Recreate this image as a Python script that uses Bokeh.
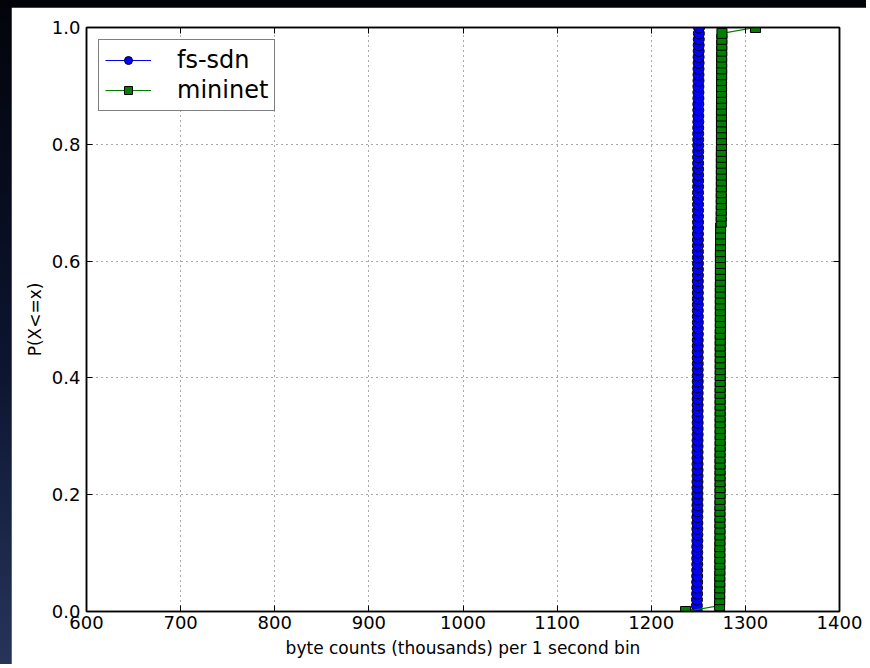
import numpy as np
from bokeh.plotting import figure
from bokeh.models import (LinearAxis, Legend, LegendItem, FixedTicker,
                          PrintfTickFormatter, Range1d, CustomJSTickFormatter)
from bokeh.embed import file_html
from bokeh.resources import INLINE

# ---- data (byte counts, thousands, per 1 second bin) ----
fs_sdn = [
    1248.4, 1248.5, 1248.6, 1248.7, 1248.7, 1248.8, 1248.8, 1248.8, 1248.9, 1248.9,
    1248.9, 1248.9, 1249.0, 1249.0, 1249.0, 1249.0, 1249.0, 1249.1, 1249.1, 1249.1,
    1249.1, 1249.1, 1249.1, 1249.2, 1249.2, 1249.2, 1249.2, 1249.2, 1249.2, 1249.2,
    1249.3, 1249.3, 1249.3, 1249.3, 1249.3, 1249.3, 1249.3, 1249.3, 1249.4, 1249.4,
    1249.4, 1249.4, 1249.4, 1249.4, 1249.4, 1249.4, 1249.4, 1249.5, 1249.5, 1249.5,
    1249.5, 1249.5, 1249.5, 1249.5, 1249.5, 1249.5, 1249.5, 1249.6, 1249.6, 1249.6,
    1249.6, 1249.6, 1249.6, 1249.6, 1249.6, 1249.7, 1249.7, 1249.7, 1249.7, 1249.7,
    1249.7, 1249.7, 1249.8, 1249.8, 1249.8, 1249.8, 1249.8, 1249.8, 1249.9, 1249.9,
    1249.9, 1249.9, 1249.9, 1250.0, 1250.0, 1250.0, 1250.0, 1250.1, 1250.1, 1250.1,
    1250.2, 1250.2, 1250.2, 1250.3, 1250.3, 1250.4, 1250.4, 1250.5, 1250.6, 1250.8,
]

mininet = [
    1236.5,
    1272.6, 1272.7, 1272.7, 1272.8, 1272.8, 1272.8, 1272.9, 1272.9, 1272.9,
    1272.9, 1272.9, 1273.0, 1273.0, 1273.0, 1273.0, 1273.0, 1273.0, 1273.0, 1273.1,
    1273.1, 1273.1, 1273.1, 1273.1, 1273.1, 1273.1, 1273.1, 1273.1, 1273.2, 1273.2,
    1273.2, 1273.2, 1273.2, 1273.2, 1273.2, 1273.2, 1273.2, 1273.2, 1273.2, 1273.3,
    1273.3, 1273.3, 1273.3, 1273.3, 1273.3, 1273.3, 1273.3, 1273.3, 1273.4, 1273.4,
    1273.4, 1273.4, 1273.4, 1273.4, 1273.4, 1273.4, 1273.5, 1273.5, 1273.5, 1273.5,
    1273.5, 1273.5, 1273.6, 1273.6, 1273.6, 1273.7,
    1274.3, 1274.3, 1274.4, 1274.4, 1274.4, 1274.4, 1274.5, 1274.5, 1274.5, 1274.5,
    1274.5, 1274.5, 1274.5, 1274.6, 1274.6, 1274.6, 1274.6, 1274.6, 1274.6, 1274.6,
    1274.7, 1274.7, 1274.7, 1274.7, 1274.7, 1274.8, 1274.8, 1274.8, 1274.8, 1274.9,
    1274.9, 1275.0, 1275.1,
    1310.8,
]

x_ticks = [600, 700, 800, 900, 1000, 1100, 1200, 1300, 1400]
y_ticks = [0.0, 0.2, 0.4, 0.6, 0.8, 1.0]
series_labels = ["fs-sdn", "mininet"]


def ecdf(vals):
    xs = np.sort(np.asarray(vals, dtype=float))
    ys = np.arange(len(xs)) / float(len(xs) - 1)
    return xs, ys


FONT = "DejaVu Sans"

p = figure(width=866, height=664,
           x_range=Range1d(600, 1400), y_range=Range1d(0, 1),
           output_backend="svg", toolbar_location=None,
           min_border_left=75, min_border_right=38,
           min_border_top=20, min_border_bottom=60)
p.styles = {"padding-top": "7px", "padding-left": "11px",
            "background": "linear-gradient(180deg, #03040a 0%, #0c1430 55%, #27345a 100%)"}
p.background_fill_color = "white"
p.border_fill_color = "white"
p.outline_line_color = "black"
p.outline_line_width = 1.5

x1, y1 = ecdf(fs_sdn)
x2, y2 = ecdf(mininet)

l1 = p.line(x1, y1, line_color="#0000ff", line_width=1.2)
s1 = p.scatter(x1, y1, marker="circle", size=11, fill_color="#0000ff",
               line_color="black", line_width=1)
l2 = p.line(x2, y2, line_color="#008000", line_width=1.2)
s2 = p.scatter(x2, y2, marker="square", size=10, fill_color="#008000",
               line_color="black", line_width=1)

# axes
for ax in (p.xaxis[0], p.yaxis[0]):
    ax.major_tick_in = 6
    ax.major_tick_out = 0
    ax.minor_tick_line_color = None
    ax.axis_line_width = 1.5
    ax.axis_line_color = "black"
    ax.major_tick_line_color = "black"
    ax.major_label_text_font = FONT
    ax.major_label_text_font_size = "18px"
    ax.major_label_text_color = "black"
    ax.axis_label_text_font = FONT
    ax.axis_label_text_font_size = "17px"
    ax.axis_label_text_font_style = "normal"
    ax.axis_label_text_color = "black"

p.xaxis[0].ticker = FixedTicker(ticks=x_ticks)
p.yaxis[0].ticker = FixedTicker(ticks=y_ticks)
p.yaxis[0].formatter = PrintfTickFormatter(format="%.1f")
p.xaxis[0].axis_label = "byte counts (thousands) per 1 second bin"
p.yaxis[0].axis_label = "P(X<=x)"
p.xaxis[0].major_label_standoff = 4
p.yaxis[0].major_label_standoff = 6
p.xaxis[0].axis_label_standoff = 6
p.yaxis[0].axis_label_standoff = 4

blank = CustomJSTickFormatter(code="return ''")
top = LinearAxis(ticker=FixedTicker(ticks=x_ticks), formatter=blank,
                 major_tick_in=6, major_tick_out=0, minor_tick_line_color=None,
                 axis_line_color="black", axis_line_width=1.5)
right = LinearAxis(ticker=FixedTicker(ticks=y_ticks), formatter=blank,
                   major_tick_in=6, major_tick_out=0, minor_tick_line_color=None,
                   axis_line_color="black", axis_line_width=1.5)
p.add_layout(top, "above")
p.add_layout(right, "right")

# grid
for g in (p.xgrid[0], p.ygrid[0]):
    g.grid_line_color = "#555555"
    g.grid_line_dash = "1 4"
    g.grid_line_width = 1
p.xgrid[0].ticker = FixedTicker(ticks=x_ticks)
p.ygrid[0].ticker = FixedTicker(ticks=y_ticks)

legend = Legend(items=[LegendItem(label=series_labels[0], renderers=[l1, s1]),
                       LegendItem(label=series_labels[1], renderers=[l2, s2])],
                location="top_left", margin=12, padding=6,
                glyph_width=46, glyph_height=20, label_height=20,
                label_standoff=26, spacing=2,
                label_text_font=FONT, label_text_font_size="24px",
                label_text_color="black",
                border_line_color="black", border_line_width=1,
                background_fill_color="white", background_fill_alpha=1.0)
p.add_layout(legend)

open("out.html", "w").write(file_html(p, INLINE))
